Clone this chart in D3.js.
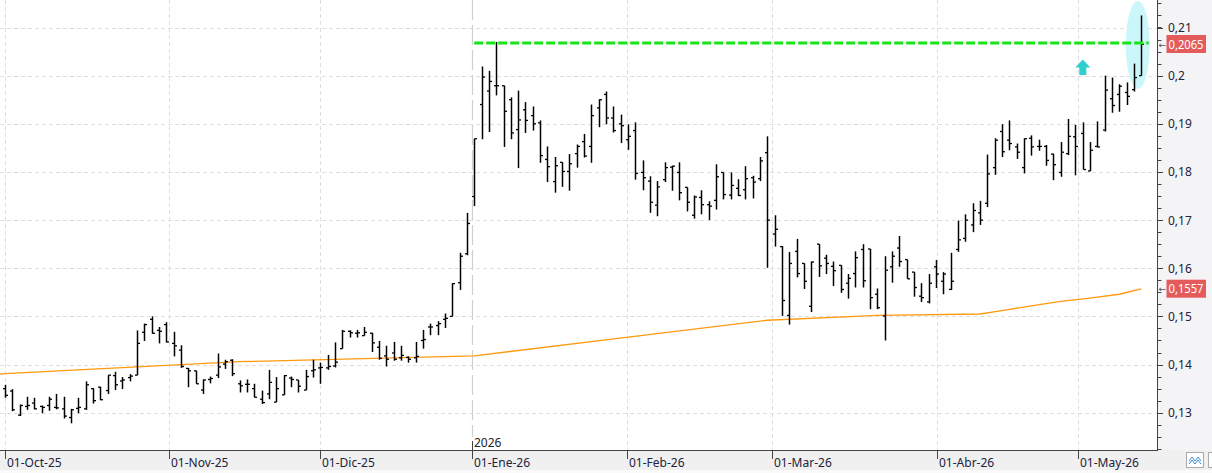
<!DOCTYPE html>
<html>
<head>
<meta charset="utf-8">
<script src="https://cdn.jsdelivr.net/npm/d3@7"></script>
<style>
  html, body { margin: 0; padding: 0; background: #fff; }
  svg { display: block; font-family: "Noto Sans", "DejaVu Sans", sans-serif; }
</style>
</head>
<body>
<svg id="chart" width="1212" height="473"></svg>
<script>
// daily OHLC bars, 01-Oct-25 .. mid May-26 (one entry per session)
const opens = [
  0.1350,0.1345,0.1295,0.1313,0.1320,0.1313,0.1315,0.1311,0.1308,0.1290,
  0.1309,0.1308,0.1350,0.1353,0.1346,0.1377,0.1366,0.1373,0.1378,0.1467,
  0.1494,0.1471,0.1483,0.1444,0.1430,0.1392,0.1387,0.1347,0.1369,0.1378,
  0.1401,0.1409,0.1360,0.1359,0.1350,0.1328,0.1339,0.1322,0.1337,0.1372,
  0.1368,0.1347,0.1387,0.1393,0.1393,0.1397,0.1433,0.1469,0.1465,0.1460,
  0.1465,0.1436,0.1418,0.1424,0.1414,0.1415,0.1414,0.1450,0.1478,0.1481,
  0.1494,0.1500,0.1570,0.1630,0.1749,0.1940,0.1968,0.1979,0.1979,0.1950,
  0.1888,0.1929,0.1917,0.1902,0.1826,0.1780,0.1820,0.1801,0.1838,0.1863,
  0.1853,0.1933,0.1961,0.1912,0.1900,0.1867,0.1886,0.1799,0.1781,0.1731,
  0.1784,0.1810,0.1799,0.1768,0.1710,0.1747,0.1732,0.1741,0.1799,0.1752,
  0.1766,0.1763,0.1788,0.1786,0.1840,0.1671,0.1645,0.1502,0.1635,0.1610,
  0.1521,0.1650,0.1621,0.1604,0.1606,0.1569,0.1589,0.1639,0.1640,0.1546,
  0.1501,0.1603,0.1642,0.1618,0.1592,0.1542,0.1530,0.1603,0.1573,0.1556,
  0.1639,0.1662,0.1690,0.1715,0.1735,0.1809,0.1884,0.1866,0.1852,0.1809,
  0.1870,0.1853,0.1853,0.1837,0.1799,0.1838,0.1873,0.1880,0.1802,0.1853,
  0.1887,0.1952,0.1961,0.1965,0.1971,0.2000
];
const highs = [
  0.1358,0.1349,0.1317,0.1333,0.1331,0.1315,0.1333,0.1339,0.1333,0.1308,
  0.1331,0.1365,0.1351,0.1354,0.1378,0.1385,0.1374,0.1380,0.1471,0.1485,
  0.1500,0.1478,0.1488,0.1468,0.1440,0.1393,0.1387,0.1369,0.1375,0.1423,
  0.1410,0.1411,0.1367,0.1369,0.1360,0.1346,0.1389,0.1374,0.1378,0.1375,
  0.1368,0.1389,0.1410,0.1404,0.1420,0.1446,0.1472,0.1471,0.1472,0.1478,
  0.1466,0.1449,0.1439,0.1447,0.1439,0.1417,0.1447,0.1472,0.1485,0.1490,
  0.1506,0.1569,0.1632,0.1715,0.1869,0.2019,0.2010,0.2070,0.1979,0.1955,
  0.1969,0.1945,0.1936,0.1907,0.1853,0.1831,0.1820,0.1837,0.1857,0.1879,
  0.1940,0.1951,0.1967,0.1936,0.1919,0.1899,0.1903,0.1824,0.1791,0.1781,
  0.1820,0.1813,0.1820,0.1768,0.1751,0.1762,0.1739,0.1816,0.1799,0.1799,
  0.1785,0.1812,0.1792,0.1831,0.1874,0.1710,0.1646,0.1634,0.1661,0.1610,
  0.1614,0.1650,0.1628,0.1614,0.1606,0.1588,0.1635,0.1650,0.1640,0.1558,
  0.1625,0.1635,0.1667,0.1618,0.1592,0.1569,0.1588,0.1617,0.1592,0.1632,
  0.1699,0.1712,0.1735,0.1740,0.1836,0.1870,0.1899,0.1907,0.1859,0.1870,
  0.1876,0.1867,0.1856,0.1838,0.1862,0.1910,0.1898,0.1903,0.1862,0.1905,
  0.2000,0.1996,0.1982,0.1986,0.2025,0.2125
];
const lows = [
  0.1331,0.1303,0.1293,0.1306,0.1307,0.1299,0.1304,0.1307,0.1288,0.1278,
  0.1299,0.1306,0.1319,0.1326,0.1339,0.1347,0.1349,0.1365,0.1378,0.1449,
  0.1464,0.1444,0.1446,0.1417,0.1393,0.1353,0.1360,0.1339,0.1361,0.1372,
  0.1391,0.1376,0.1342,0.1342,0.1332,0.1318,0.1328,0.1322,0.1337,0.1353,
  0.1342,0.1347,0.1373,0.1360,0.1389,0.1394,0.1433,0.1456,0.1456,0.1460,
  0.1426,0.1410,0.1396,0.1408,0.1408,0.1404,0.1404,0.1433,0.1461,0.1461,
  0.1476,0.1500,0.1555,0.1627,0.1729,0.1868,0.1883,0.1959,0.1852,0.1868,
  0.1808,0.1881,0.1886,0.1819,0.1779,0.1757,0.1769,0.1761,0.1809,0.1830,
  0.1819,0.1893,0.1899,0.1882,0.1860,0.1846,0.1784,0.1762,0.1715,0.1708,
  0.1779,0.1761,0.1741,0.1718,0.1703,0.1712,0.1700,0.1722,0.1743,0.1743,
  0.1750,0.1743,0.1745,0.1781,0.1601,0.1645,0.1501,0.1483,0.1581,0.1557,
  0.1509,0.1582,0.1588,0.1563,0.1549,0.1537,0.1560,0.1560,0.1515,0.1515,
  0.1450,0.1570,0.1603,0.1578,0.1541,0.1530,0.1527,0.1559,0.1546,0.1555,
  0.1634,0.1655,0.1675,0.1690,0.1727,0.1794,0.1831,0.1845,0.1827,0.1797,
  0.1834,0.1844,0.1813,0.1783,0.1790,0.1835,0.1793,0.1805,0.1802,0.1851,
  0.1884,0.1923,0.1925,0.1939,0.1967,0.2000
];
const closes = [
  0.1336,0.1306,0.1315,0.1315,0.1308,0.1311,0.1328,0.1310,0.1293,0.1306,
  0.1311,0.1358,0.1325,0.1327,0.1378,0.1358,0.1368,0.1376,0.1444,0.1483,
  0.1465,0.1469,0.1447,0.1439,0.1396,0.1387,0.1360,0.1368,0.1371,0.1395,
  0.1406,0.1381,0.1356,0.1359,0.1332,0.1321,0.1363,0.1350,0.1377,0.1369,
  0.1355,0.1375,0.1389,0.1394,0.1396,0.1405,0.1469,0.1466,0.1466,0.1467,
  0.1445,0.1413,0.1411,0.1411,0.1419,0.1411,0.1417,0.1452,0.1478,0.1485,
  0.1496,0.1568,0.1625,0.1693,0.1869,0.1997,0.1988,0.1979,0.1926,0.1881,
  0.1908,0.1907,0.1900,0.1834,0.1811,0.1813,0.1801,0.1817,0.1853,0.1833,
  0.1917,0.1950,0.1912,0.1886,0.1896,0.1874,0.1797,0.1788,0.1737,0.1769,
  0.1809,0.1812,0.1757,0.1737,0.1748,0.1732,0.1729,0.1790,0.1753,0.1772,
  0.1751,0.1786,0.1779,0.1823,0.1700,0.1681,0.1533,0.1610,0.1589,0.1573,
  0.1613,0.1605,0.1610,0.1595,0.1556,0.1579,0.1622,0.1574,0.1539,0.1518,
  0.1596,0.1625,0.1614,0.1578,0.1560,0.1539,0.1569,0.1588,0.1588,0.1573,
  0.1659,0.1700,0.1720,0.1700,0.1796,0.1866,0.1842,0.1859,0.1841,0.1869,
  0.1852,0.1853,0.1824,0.1815,0.1841,0.1874,0.1853,0.1805,0.1845,0.1852,
  0.1970,0.1938,0.1978,0.1957,0.1996,0.2065
];

// moving average: [bar index, value]
const maPoints = [
  [-1, 0.1380], [0, 0.1381], [32, 0.1406], [64, 0.1418], [85, 0.1457],
  [104, 0.1492], [119, 0.1502], [133, 0.1505], [136, 0.1512], [140, 0.1522],
  [144, 0.1531], [148, 0.1538], [152, 0.1546], [155, 0.1557]
];

// month labels and where they fall (bar index)
const monthLabels = ["01-Oct-25", "01-Nov-25", "01-Dic-25", "01-Ene-26",
                     "01-Feb-26", "01-Mar-26", "01-Abr-26", "01-May-26"];
const monthIdx = [0, 22.4, 43, 63.7, 84.8, 104.6, 127.1, 146.3];
const yearLabel = "2026";
const yearIdx = 63.7;

const yTicks = [0.13, 0.14, 0.15, 0.16, 0.17, 0.18, 0.19, 0.20, 0.21];
const resistance = { value: 0.2068, from: 64, to: 156 };
const lastClose = 0.2065;
const lastMA = 0.1557;

// ---- layout
const W = 1212, H = 473;
const plotR = 1157, plotB = 450;

const svg = d3.select("#chart");
const esLocale = d3.formatLocale({ decimal: ",", thousands: ".", grouping: [3], currency: ["", " €"] });
const fmtAxis = esLocale.format(".2~f");
const fmtBox = esLocale.format(".4f");

const x = d3.scaleLinear().domain([0, 155]).range([5, 1141.3]);
const y = d3.scaleLinear().domain([0.21, 0.13]).range([27.5, 412.7]);

svg.append("defs").append("clipPath").attr("id", "plotclip")
  .append("rect").attr("x", 0).attr("y", 0).attr("width", plotR).attr("height", plotB);

svg.append("rect").attr("width", W).attr("height", H).attr("fill", "#fff");
// right scale panel
svg.append("rect").attr("x", plotR).attr("y", 0).attr("width", W - plotR).attr("height", plotB)
  .attr("fill", "#f4f4f6");

const plot = svg.append("g").attr("clip-path", "url(#plotclip)");

// horizontal grid
plot.selectAll("line.hgrid").data(yTicks).join("line")
  .attr("class", "hgrid")
  .attr("x1", 0).attr("x2", plotR)
  .attr("y1", d => Math.round(y(d)) + 0.5).attr("y2", d => Math.round(y(d)) + 0.5)
  .attr("stroke", "#dedede").attr("stroke-dasharray", "4,3");

// vertical month grid (year boundary drawn separately)
plot.selectAll("line.vgrid").data(monthIdx.filter(d => d !== yearIdx)).join("line")
  .attr("class", "vgrid")
  .attr("x1", d => Math.round(x(d)) + 0.5).attr("x2", d => Math.round(x(d)) + 0.5)
  .attr("y1", 0).attr("y2", plotB)
  .attr("stroke", "#dedede").attr("stroke-dasharray", "4,3");

plot.append("line")
  .attr("x1", Math.round(x(yearIdx)) + 0.5).attr("x2", Math.round(x(yearIdx)) + 0.5)
  .attr("y1", 0).attr("y2", 437)
  .attr("stroke", "#cfcfcf").attr("stroke-width", 1.2).attr("stroke-dasharray", "20,5");

// highlight ellipse round the last bar
plot.append("ellipse")
  .attr("cx", x(155) - 3.5).attr("cy", 45)
  .attr("rx", 12).attr("ry", 44)
  .attr("fill", "#cbf6fa");

// moving average
plot.append("path")
  .datum(maPoints)
  .attr("d", d3.line().x(d => x(d[0])).y(d => y(d[1])))
  .attr("fill", "none").attr("stroke", "#ff9a10").attr("stroke-width", 1.3);

// OHLC bars
const bars = plot.append("g");
opens.forEach((o, i) => {
  const cx = Math.round(x(i)) + 0.5;
  const g = bars.append("g");
  g.append("line").attr("x1", cx).attr("x2", cx)
    .attr("y1", y(highs[i])).attr("y2", y(lows[i]))
    .attr("stroke", "#000").attr("stroke-width", 1.5);
  g.append("line").attr("x1", cx - 2.5).attr("x2", cx)
    .attr("y1", y(o)).attr("y2", y(o))
    .attr("stroke", "#000").attr("stroke-width", 1.3);
  g.append("line").attr("x1", cx).attr("x2", cx + 2.5)
    .attr("y1", y(closes[i])).attr("y2", y(closes[i]))
    .attr("stroke", "#000").attr("stroke-width", 1.3);
});

// resistance line
plot.append("line")
  .attr("x1", x(resistance.from)).attr("x2", x(resistance.to))
  .attr("y1", y(resistance.value)).attr("y2", y(resistance.value))
  .attr("stroke", "#16e616").attr("stroke-width", 3).attr("stroke-dasharray", "9,3");

// up arrow marker
const ax = x(146) + 7.5, ay = 59.5;
plot.append("path")
  .attr("d", `M${ax},${ay} L${ax + 7.5},${ay + 8} L${ax + 3.5},${ay + 8} L${ax + 3.5},${ay + 15.5}
              L${ax - 3.5},${ay + 15.5} L${ax - 3.5},${ay + 8} L${ax - 7.5},${ay + 8} Z`)
  .attr("fill", "#2fcfcf");

// ---- right axis
const ra = svg.append("g");
ra.append("line").attr("x1", plotR + 0.5).attr("x2", plotR + 0.5).attr("y1", 0).attr("y2", plotB)
  .attr("stroke", "#444");
const minor = d3.range(0.1225, 0.2160, 0.0025);
ra.selectAll("line.minor").data(minor).join("line")
  .attr("x1", plotR).attr("x2", plotR + 4.5)
  .attr("y1", d => Math.round(y(d)) + 0.5).attr("y2", d => Math.round(y(d)) + 0.5)
  .attr("stroke", "#444");
ra.selectAll("line.major").data(yTicks).join("line")
  .attr("x1", plotR).attr("x2", plotR + 6)
  .attr("y1", d => Math.round(y(d)) + 0.5).attr("y2", d => Math.round(y(d)) + 0.5)
  .attr("stroke", "#444");
ra.selectAll("text").data(yTicks).join("text")
  .attr("x", plotR + 11).attr("y", d => y(d) + 4.5)
  .attr("font-size", 12).attr("fill", "#22223a")
  .text(d => fmtAxis(d));

// value boxes
[[lastClose, 44], [lastMA, 288.7]].forEach(([v, cy]) => {
  ra.append("rect").attr("x", 1166.5).attr("y", cy - 9).attr("width", 39.5).attr("height", 18)
    .attr("fill", "#e35b5b");
  ra.append("text").attr("x", 1168.5).attr("y", cy + 4.5)
    .attr("font-size", 12).attr("fill", "#fff")
    .attr("textLength", 35).attr("lengthAdjust", "spacingAndGlyphs")
    .text(fmtBox(v));
  ra.append("text").attr("x", 1158.5).attr("y", cy + 3.5)
    .attr("font-size", 9).attr("fill", "#555").text("←");
});

// ---- bottom axis band
svg.append("rect").attr("x", 0).attr("y", plotB).attr("width", W).attr("height", H - plotB)
  .attr("fill", "#f0f0f0");
svg.append("rect").attr("x", 0).attr("y", 470).attr("width", W).attr("height", 3)
  .attr("fill", "#fafafa");
svg.append("line").attr("x1", 0).attr("x2", plotR + 1).attr("y1", plotB + 0.5).attr("y2", plotB + 0.5)
  .attr("stroke", "#444");

const xa = svg.append("g");
xa.selectAll("line").data(monthIdx).join("line")
  .attr("x1", d => Math.round(x(d)) + 0.5).attr("x2", d => Math.round(x(d)) + 0.5)
  .attr("y1", plotB).attr("y2", 459)
  .attr("stroke", "#444");
xa.selectAll("text").data(monthLabels).join("text")
  .attr("x", (d, i) => Math.round(x(monthIdx[i])) + 2)
  .attr("y", 467)
  .attr("font-size", 12).attr("fill", "#22223a")
  .text(d => d);

// year marker
svg.append("line")
  .attr("x1", Math.round(x(yearIdx)) + 0.5).attr("x2", Math.round(x(yearIdx)) + 0.5)
  .attr("y1", 441).attr("y2", plotB).attr("stroke", "#444");
svg.append("text").attr("x", Math.round(x(yearIdx)) + 2).attr("y", 446.5)
  .attr("font-size", 12).attr("fill", "#222").text(yearLabel);

// little toolbar button bottom right
svg.append("rect").attr("x", 1186.5).attr("y", 452.5).attr("width", 17).attr("height", 15)
  .attr("fill", "#fff").attr("stroke", "#aaa");
svg.append("path")
  .attr("d", "M1189,461 L1192,457 L1195,461 L1198,457 L1201,461 M1189,464 L1192,460 L1195,464 L1198,460 L1201,464")
  .attr("fill", "none").attr("stroke", "#3b8ed8").attr("stroke-width", 1);
svg.append("rect").attr("x", 1208.5).attr("y", 452.5).attr("width", 8).attr("height", 15)
  .attr("fill", "#fff").attr("stroke", "#aaa");
</script>
</body>
</html>
